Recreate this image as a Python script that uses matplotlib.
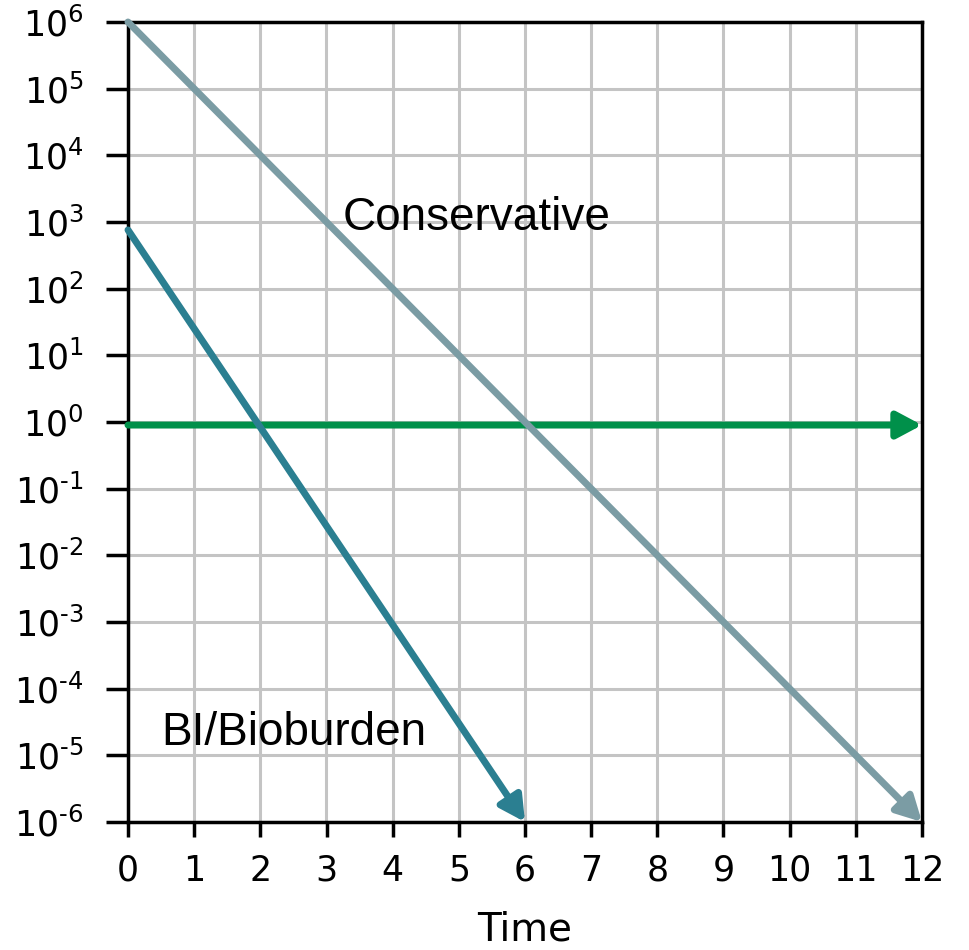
import matplotlib
matplotlib.use("Agg")
import matplotlib.pyplot as plt

plt.rcParams['font.family'] = ['DejaVu Sans']
plt.rcParams['mathtext.fontset'] = 'dejavusans'

# data
cons_x = [0, 12]
cons_y = [1e6, 1e-6]
bi_x = [0, 6]
bi_y = [7.6e2, 1e-6]
lim_x = [0, 12]
lim_y = [0.9, 0.9]

x_ticks = list(range(0, 13))
y_exps = list(range(-6, 7))

fig = plt.figure(figsize=(9.69, 9.5), dpi=100)
ax = fig.add_axes([128 / 969, 128 / 950, 794 / 969, 800 / 950])
ax.set_yscale('log')
ax.set_xlim(0, 12)
ax.set_ylim(1e-6, 1e6)

ax.set_xticks(x_ticks)
ax.set_xticklabels([str(v) for v in x_ticks])
ax.set_yticks([10.0 ** e for e in y_exps])
ax.set_yticklabels([r'$\mathregular{10^{\text{%d}}}$' % e for e in y_exps])
ax.minorticks_off()
ax.tick_params(axis='y', direction='out', length=16, width=2.5, labelsize=25, pad=16)
ax.tick_params(axis='x', direction='out', length=11, width=2.5, labelsize=25, pad=12)
for s in ax.spines.values():
    s.set_linewidth(2.5)
    s.set_color('black')
ax.grid(True, color='#c4c4c4', linewidth=2.2)
ax.set_axisbelow(True)


def arrow_line(xs, ys, color):
    ax.annotate('', xy=(xs[1], ys[1]), xytext=(xs[0], ys[0]),
                arrowprops=dict(arrowstyle='-|>,head_length=1.5,head_width=0.8',
                                color=color, lw=5, shrinkA=0, shrinkB=0),
                annotation_clip=False, zorder=3)


arrow_line(lim_x, lim_y, '#00904a')
arrow_line(cons_x, cons_y, '#7b9ca4')
arrow_line(bi_x, bi_y, '#2b7f91')

ax.text(3.25, 10 ** 2.88, 'Conservative', fontsize=33, va='baseline', ha='left',
        family='Liberation Sans')
ax.text(0.5, 10 ** -4.845, 'BI/Bioburden', fontsize=33, va='baseline', ha='left',
        family='Liberation Sans')

ax.set_xlabel('Time', fontsize=28, labelpad=16)

fig.savefig('out.png', dpi=100)
